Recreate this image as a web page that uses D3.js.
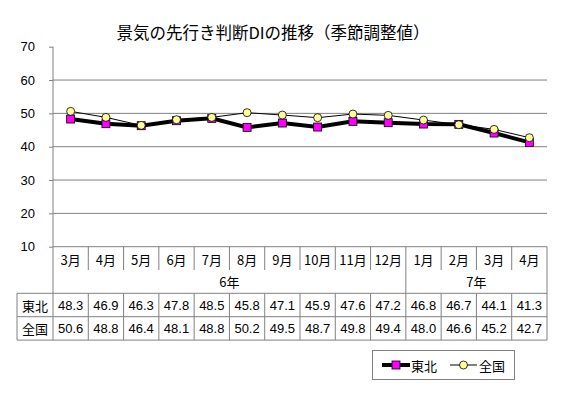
<!DOCTYPE html>
<html>
<head>
<meta charset="utf-8">
<script src="https://cdnjs.cloudflare.com/ajax/libs/d3/7.8.5/d3.min.js"></script>
<style>
  body { margin: 0; background: #fff; }
  svg { display: block; }
  text { font-family: "Liberation Sans", Arial, "Noto Sans CJK JP", sans-serif; fill: #000; }
  .jp { font-family: "Noto Sans CJK JP", sans-serif; }
</style>
</head>
<body>
<svg id="chart" width="563" height="393"></svg>
<script>
  const months = ["3月", "4月", "5月", "6月", "7月", "8月", "9月", "10月", "11月", "12月", "1月", "2月", "3月", "4月"];
  const years = [{label: "6年", from: 0, to: 9}, {label: "7年", from: 10, to: 13}];
  const tohoku = [48.3, 46.9, 46.3, 47.8, 48.5, 45.8, 47.1, 45.9, 47.6, 47.2, 46.8, 46.7, 44.1, 41.3];
  const zenkoku = [50.6, 48.8, 46.4, 48.1, 48.8, 50.2, 49.5, 48.7, 49.8, 49.4, 48.0, 46.6, 45.2, 42.7];
  const yTicks = [10, 20, 30, 40, 50, 60, 70];
  const seriesNames = ["東北", "全国"];

  const plotLeft = 53, plotRight = 547, plotTop = 46.7, plotBottom = 246.7;
  const gridColor = "#808080";

  const svg = d3.select("#chart");

  const x = d3.scaleBand().domain(d3.range(months.length)).range([plotLeft, plotRight]);
  const y = d3.scaleLinear().domain([10, 70]).range([plotBottom, plotTop]);

  // title
  svg.append("text")
      .attr("class", "jp")
      .attr("x", 273).attr("y", 32)
      .attr("text-anchor", "middle")
      .attr("dominant-baseline", "central")
      .style("font-size", "16.5px")
      .text("景気の先行き判断DIの推移（季節調整値）");

  // gridlines
  svg.append("g")
      .selectAll("line")
      .data(yTicks.filter(d => d < 70))
      .join("line")
      .attr("x1", plotLeft).attr("x2", plotRight)
      .attr("y1", d => y(d)).attr("y2", d => y(d))
      .attr("stroke", gridColor).attr("stroke-width", 1);

  // y axis
  const yAxis = svg.append("g")
      .attr("transform", `translate(${plotLeft},0)`)
      .call(d3.axisLeft(y).tickValues(yTicks).tickSize(4).tickPadding(14));
  yAxis.select(".domain").remove();
  yAxis.selectAll("line").attr("stroke", gridColor);
  yAxis.selectAll("text").style("font-size", "13px")
      .style("font-family", "'Liberation Sans', Arial, sans-serif");

  // table
  const rowCat = [plotBottom, 270];
  const rowYear = 293.3;
  const rowH = 23.4;
  const tableBottom = rowYear + 2 * rowH;
  const headLeft = 17;
  const t = svg.append("g").attr("stroke", gridColor).attr("stroke-width", 1);

  // left axis line (spans plot and table)
  t.append("line").attr("x1", plotLeft).attr("x2", plotLeft).attr("y1", plotTop).attr("y2", tableBottom);
  t.append("line").attr("x1", plotRight).attr("x2", plotRight).attr("y1", plotBottom).attr("y2", tableBottom);
  // horizontal rules
  [rowYear, rowYear + rowH, tableBottom].forEach(yy => {
    t.append("line").attr("x1", headLeft).attr("x2", plotRight).attr("y1", yy).attr("y2", yy);
  });
  t.append("line").attr("x1", headLeft).attr("x2", headLeft).attr("y1", rowYear).attr("y2", tableBottom);

  // vertical separators
  d3.range(1, months.length).forEach(i => {
    const xx = x(i);
    const fullYear = years.some(yr => yr.from === i);
    if (fullYear) {
      t.append("line").attr("x1", xx).attr("x2", xx).attr("y1", plotBottom).attr("y2", tableBottom);
    } else {
      t.append("line").attr("x1", xx).attr("x2", xx).attr("y1", rowCat[0]).attr("y2", rowCat[1]);
      t.append("line").attr("x1", xx).attr("x2", xx).attr("y1", rowYear).attr("y2", tableBottom);
    }
  });

  const txt = svg.append("g").style("font-size", "13px");
  txt.selectAll(".month")
      .data(months)
      .join("text")
      .attr("class", "jp")
      .attr("x", (d, i) => x(i) + x.bandwidth() / 2)
      .attr("y", 259)
      .attr("text-anchor", "middle")
      .attr("dominant-baseline", "central")
      .text(d => d);

  txt.selectAll(".year")
      .data(years)
      .join("text")
      .attr("class", "jp")
      .attr("x", d => (x(d.from) + x(d.to) + x.bandwidth()) / 2)
      .attr("y", 281.7)
      .attr("text-anchor", "middle")
      .attr("dominant-baseline", "central")
      .text(d => d.label);

  [tohoku, zenkoku].forEach((vals, r) => {
    const cy = rowYear + rowH * r + rowH / 2;
    txt.append("text")
        .attr("class", "jp")
        .attr("x", (headLeft + plotLeft) / 2).attr("y", cy)
        .attr("text-anchor", "middle")
        .attr("dominant-baseline", "central")
        .text(seriesNames[r]);
    txt.append("g").selectAll("text")
        .data(vals)
        .join("text")
        .attr("x", (d, i) => x(i) + x.bandwidth() / 2)
        .attr("y", cy)
        .attr("text-anchor", "middle")
        .attr("dominant-baseline", "central")
        .text(d => d.toFixed(1));
  });

  // series
  const cx = (d, i) => x(i) + x.bandwidth() / 2;
  const line = d3.line().x(cx).y(d => y(d));

  svg.append("path").datum(tohoku)
      .attr("d", line).attr("fill", "none")
      .attr("stroke", "#000").attr("stroke-width", 4);
  svg.append("g").selectAll("rect")
      .data(tohoku)
      .join("rect")
      .attr("x", (d, i) => cx(d, i) - 4).attr("y", d => y(d) - 4)
      .attr("width", 8).attr("height", 8)
      .attr("fill", "#ff00ff").attr("stroke", "#000").attr("stroke-width", 0.8);

  svg.append("path").datum(zenkoku)
      .attr("d", line).attr("fill", "none")
      .attr("stroke", "#000").attr("stroke-width", 1);
  svg.append("g").selectAll("circle")
      .data(zenkoku)
      .join("circle")
      .attr("cx", cx).attr("cy", d => y(d))
      .attr("r", 4)
      .attr("fill", "#ffff99").attr("stroke", "#000").attr("stroke-width", 0.8);

  // legend
  const lg = svg.append("g");
  lg.append("rect")
      .attr("x", 372.5).attr("y", 350.5).attr("width", 142).attr("height", 29)
      .attr("fill", "#fff").attr("stroke", gridColor);
  const ly = 365;
  lg.append("line").attr("x1", 382).attr("x2", 410).attr("y1", ly).attr("y2", ly)
      .attr("stroke", "#000").attr("stroke-width", 4);
  lg.append("rect").attr("x", 392).attr("y", ly - 4).attr("width", 8).attr("height", 8)
      .attr("fill", "#ff00ff").attr("stroke", "#000").attr("stroke-width", 0.8);
  lg.append("text").attr("class", "jp").attr("x", 411).attr("y", ly)
      .attr("dominant-baseline", "central").style("font-size", "13px").text(seriesNames[0]);
  lg.append("line").attr("x1", 450).attr("x2", 477).attr("y1", ly).attr("y2", ly)
      .attr("stroke", "#000").attr("stroke-width", 1);
  lg.append("circle").attr("cx", 463.5).attr("cy", ly).attr("r", 4)
      .attr("fill", "#ffff99").attr("stroke", "#000").attr("stroke-width", 0.8);
  lg.append("text").attr("class", "jp").attr("x", 479).attr("y", ly)
      .attr("dominant-baseline", "central").style("font-size", "13px").text(seriesNames[1]);
</script>
</body>
</html>
